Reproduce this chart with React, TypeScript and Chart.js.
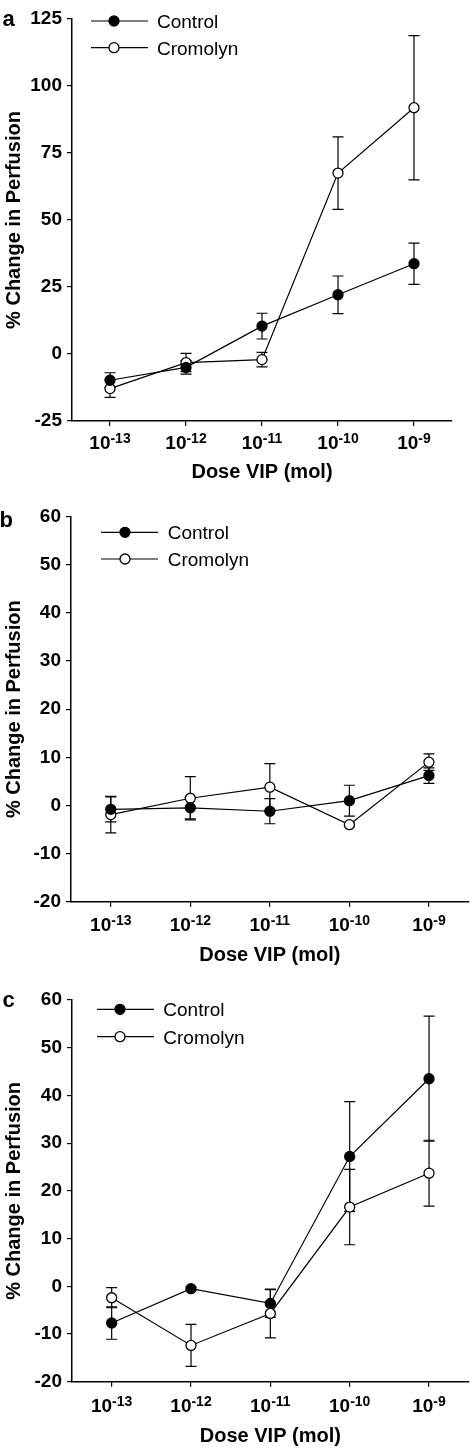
import React, { useEffect, useRef } from "react";
import { Chart, registerables } from "chart.js";

Chart.register(...registerables);

// ---------- data ----------
const doseBase = "10";
const doseExponents = ["-13", "-12", "-11", "-10", "-9"];
const seriesNames = ["Control", "Cromolyn"];
const xAxisTitle = "Dose VIP (mol)";
const yAxisTitle = "% Change in Perfusion";

const aControl = [-9.8, -5, 10.4, 22.1, 33.7];
const aControlErr = [2.8, 2.5, 4.8, 7, 7.7];
const aCromolyn = [-12.9, -3.2, -2.1, 67.5, 91.9];
const aCromolynErr = [3.3, 3.4, 2.7, 13.5, 26.9];
const aYRange = [-25, 125];
const aYStep = 25;

const bControl = [-0.8, -0.5, -1.2, 1.0, 6.2];
const bControlErr = [2.6, 2.3, 2.6, 3.2, 1.6];
const bCromolyn = [-1.9, 1.5, 3.8, -4.0, 9.0];
const bCromolynErr = [3.8, 4.5, 4.9, 0.4, 1.7];
const bYRange = [-20, 60];
const bYStep = 10;

const cControl = [-7.7, -0.5, -3.6, 27.2, 43.5];
const cControlErr = [3.4, 0.3, 2.9, 11.5, 13.1];
const cCromolyn = [-2.4, -12.4, -5.7, 16.6, 23.7];
const cCromolynErr = [2.1, 4.4, 5.1, 7.9, 6.9];
const cYRange = [-20, 60];
const cYStep = 10;

// ---------- layout ----------
const FONT = "'Liberation Sans', Arial, Helvetica, sans-serif";
const PAGE_W = 475;

type PanelCfg = {
  letter: string;
  top: number;
  height: number;
  area: { left: number; right: number; top: number; bottom: number };
  yRange: number[];
  yStep: number;
  control: number[];
  controlErr: number[];
  cromolyn: number[];
  cromolynErr: number[];
  legend: { x1: number; x2: number; mx: number; tx: number; rows: number[] };
  xTitleY: number;
  tickOffset: number;
  letterPos: { x: number; y: number };
};

const panels: PanelCfg[] = [
  {
    letter: "a",
    top: 0,
    height: 492,
    area: { left: 72, right: 452, top: 19, bottom: 421 },
    yRange: aYRange,
    yStep: aYStep,
    control: aControl,
    controlErr: aControlErr,
    cromolyn: aCromolyn,
    cromolynErr: aCromolynErr,
    legend: { x1: 91, x2: 148, mx: 114, tx: 157, rows: [21, 47.7] },
    xTitleY: 472,
    tickOffset: 21,
    letterPos: { x: 2.5, y: 26 },
  },
  {
    letter: "b",
    top: 500,
    height: 470,
    area: { left: 71, right: 470, top: 516.7, bottom: 901.7 },
    yRange: bYRange,
    yStep: bYStep,
    control: bControl,
    controlErr: bControlErr,
    cromolyn: bCromolyn,
    cromolynErr: bCromolynErr,
    legend: { x1: 101, x2: 158, mx: 125, tx: 167.7, rows: [532.3, 559] },
    xTitleY: 955,
    tickOffset: 22,
    letterPos: { x: -0.5, y: 527 },
  },
  {
    letter: "c",
    top: 980,
    height: 468,
    area: { left: 72, right: 472, top: 1000, bottom: 1381.7 },
    yRange: cYRange,
    yStep: cYStep,
    control: cControl,
    controlErr: cControlErr,
    cromolyn: cCromolyn,
    cromolynErr: cCromolynErr,
    legend: { x1: 97, x2: 154, mx: 120, tx: 163.3, rows: [1009.3, 1036.7] },
    xTitleY: 1436.5,
    tickOffset: 23,
    letterPos: { x: 2.5, y: 1006.7 },
  },
];

function Panel({ cfg }: { cfg: PanelCfg }) {
  const ref = useRef<HTMLCanvasElement | null>(null);

  useEffect(() => {
    const canvas = ref.current;
    if (!canvas) return;
    const top = cfg.top;
    const bottomEdge = cfg.top + cfg.height;
    const titleLH = 24;
    const xTitlePadBottom = Math.max(0, bottomEdge - cfg.xTitleY - titleLH / 2);

    const errorBars = {
      id: "errorBars",
      beforeDatasetsDraw(chart: any) {
        const ctx = chart.ctx;
        const ys = chart.scales.y;
        chart.data.datasets.forEach((ds: any, di: number) => {
          const meta = chart.getDatasetMeta(di);
          meta.data.forEach((pt: any, i: number) => {
            const v = ds.data[i];
            const e = ds.errors[i];
            const x = pt.x;
            const y1 = ys.getPixelForValue(v + e);
            const y2 = ys.getPixelForValue(v - e);
            ctx.save();
            ctx.strokeStyle = "#000";
            ctx.lineWidth = 1.2;
            ctx.beginPath();
            ctx.moveTo(x, y1);
            ctx.lineTo(x, y2);
            ctx.moveTo(x - 5.5, y1);
            ctx.lineTo(x + 5.5, y1);
            ctx.moveTo(x - 5.5, y2);
            ctx.lineTo(x + 5.5, y2);
            ctx.stroke();
            ctx.restore();
          });
        });
      },
    };

    const decorations = {
      id: "decorations",
      afterDraw(chart: any) {
        const ctx = chart.ctx;
        const xs = chart.scales.x;
        ctx.save();
        // x tick labels with superscript exponents
        const mainFont = `bold 19px ${FONT}`;
        const supFont = `bold 14px ${FONT}`;
        ctx.fillStyle = "#000";
        doseExponents.forEach((exp, i) => {
          const cx = xs.getPixelForTick(i);
          const cy = cfg.area.bottom - top + cfg.tickOffset;
          ctx.font = mainFont;
          const w1 = ctx.measureText(doseBase).width;
          ctx.font = supFont;
          const w2 = ctx.measureText(exp).width;
          const x0 = cx - (w1 + w2) / 2;
          ctx.textBaseline = "alphabetic";
          ctx.textAlign = "left";
          ctx.font = mainFont;
          ctx.fillText(doseBase, x0, cy + 6.8);
          ctx.font = supFont;
          ctx.fillText(exp, x0 + w1, cy + 1.2);
        });
        // legend
        const lg = cfg.legend;
        chart.data.datasets.forEach((ds: any, di: number) => {
          const y = lg.rows[di] - top;
          ctx.strokeStyle = "#000";
          ctx.lineWidth = 1.2;
          ctx.beginPath();
          ctx.moveTo(lg.x1, y);
          ctx.lineTo(lg.x2, y);
          ctx.stroke();
          ctx.beginPath();
          ctx.arc(lg.mx, y, 5, 0, Math.PI * 2);
          ctx.fillStyle = ds.pointBackgroundColor;
          ctx.fill();
          ctx.lineWidth = 1.3;
          ctx.stroke();
          ctx.fillStyle = "#000";
          ctx.font = `19px ${FONT}`;
          ctx.textAlign = "left";
          ctx.textBaseline = "alphabetic";
          ctx.fillText(ds.label, lg.tx, y + 6.8);
        });
        // panel letter
        ctx.font = `bold 22px ${FONT}`;
        ctx.textAlign = "left";
        ctx.textBaseline = "alphabetic";
        ctx.fillStyle = "#000";
        ctx.fillText(cfg.letter, cfg.letterPos.x, cfg.letterPos.y - top);
        ctx.restore();
      },
    };

    const chart = new Chart(canvas, {
      type: "line",
      data: {
        labels: doseExponents.map((e) => doseBase + e),
        datasets: [
          {
            label: seriesNames[0],
            data: cfg.control,
            errors: cfg.controlErr,
            borderColor: "#000",
            borderWidth: 1.2,
            pointRadius: 5,
            pointHoverRadius: 5,
            pointBackgroundColor: "#000",
            pointBorderColor: "#000",
            pointBorderWidth: 1.3,
            fill: false,
            tension: 0,
          } as any,
          {
            label: seriesNames[1],
            data: cfg.cromolyn,
            errors: cfg.cromolynErr,
            borderColor: "#000",
            borderWidth: 1.2,
            pointRadius: 5,
            pointHoverRadius: 5,
            pointBackgroundColor: "#fff",
            pointBorderColor: "#000",
            pointBorderWidth: 1.3,
            fill: false,
            tension: 0,
          } as any,
        ],
      },
      options: {
        responsive: false,
        animation: false,
        events: [],
        layout: {
          padding: {
            top: cfg.area.top - top,
            right: PAGE_W - cfg.area.right,
            left: 0,
            bottom: 0,
          },
        },
        plugins: {
          legend: { display: false },
          tooltip: { enabled: false },
          title: { display: false },
        },
        scales: {
          x: {
            type: "category",
            offset: true,
            afterFit: (s: any) => {
              s.height = bottomEdge - cfg.area.bottom;
            },
            grid: {
              display: true,
              drawOnChartArea: false,
              drawTicks: true,
              tickLength: 5,
              color: "#000",
              lineWidth: 1.2,
            },
            border: { display: true, color: "#000", width: 1.5 },
            ticks: { display: false },
            title: {
              display: true,
              text: xAxisTitle,
              color: "#000",
              font: { family: FONT, size: 20, weight: "bold", lineHeight: 1.2 },
              padding: { top: 0, bottom: xTitlePadBottom },
            },
          },
          y: {
            type: "linear",
            min: cfg.yRange[0],
            max: cfg.yRange[1],
            afterFit: (s: any) => {
              s.width = cfg.area.left;
            },
            ticks: {
              stepSize: cfg.yStep,
              color: "#000",
              padding: 5,
              font: { family: FONT, size: 19, weight: "bold" },
            },
            grid: {
              display: true,
              drawOnChartArea: false,
              drawTicks: true,
              tickLength: 5,
              color: "#000",
              lineWidth: 1.2,
            },
            border: { display: true, color: "#000", width: 1.5 },
            title: {
              display: true,
              text: yAxisTitle,
              color: "#000",
              font: { family: FONT, size: 20, weight: "bold", lineHeight: 1.2 },
              padding: { top: 2, bottom: 0 },
            },
          },
        },
      } as any,
      plugins: [errorBars, decorations],
    });

    return () => chart.destroy();
  }, [cfg]);

  return (
    <canvas
      ref={ref}
      width={PAGE_W}
      height={cfg.height}
      style={{
        position: "absolute",
        left: 0,
        top: cfg.top,
        width: PAGE_W,
        height: cfg.height,
        display: "block",
      }}
    />
  );
}

export default function App() {
  return (
    <div
      style={{
        position: "absolute",
        left: 0,
        top: 0,
        width: PAGE_W,
        height: 1448,
        background: "#fff",
      }}
    >
      {panels.map((p) => (
        <Panel key={p.letter} cfg={p} />
      ))}
    </div>
  );
}
